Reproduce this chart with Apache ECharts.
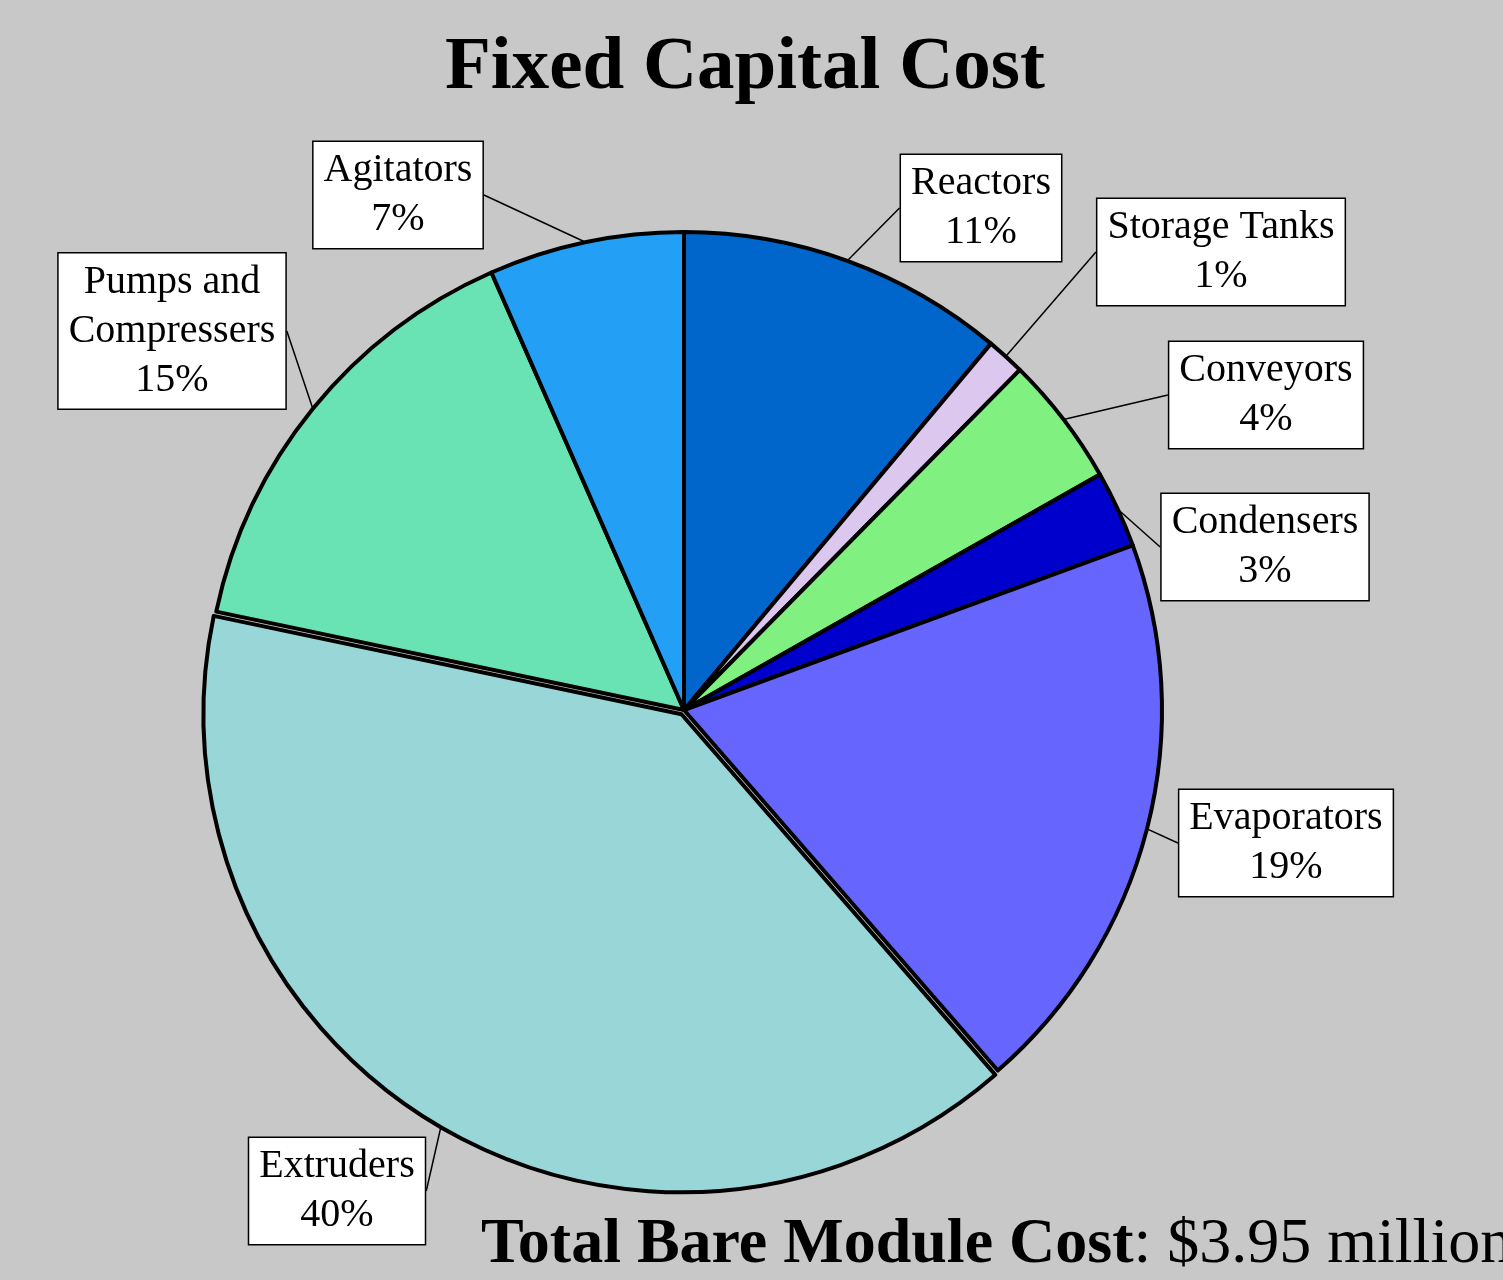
<!DOCTYPE html>
<html>
<head>
<meta charset="utf-8">
<script src="https://cdn.jsdelivr.net/npm/echarts@6/dist/echarts.min.js"></script>
<style>
  html, body { margin: 0; padding: 0; background: #c8c8c8; }
  #pieChart { width: 1503px; height: 1280px; }
</style>
</head>
<body>
<div id="pieChart"></div>
<script>
// equipment groups, clockwise from 12 o'clock
const categories = ['Reactors', 'Storage Tanks', 'Conveyors', 'Condensers', 'Evaporators', 'Extruders', 'Pumps and Compressers', 'Agitators'];
// share of bare module cost, %
const shares = [11.1, 1.3, 4.4, 2.6, 19.2, 39.7, 15.1, 6.6];
const colors = ['#0066cc', '#dcc8ee', '#80f080', '#0000cc', '#6666ff', '#99d6d8', '#69e2b4', '#23a0f5'];

// the slice that is pulled out of the pie
const exploded = 'Extruders';

// callout box centres (px)
const labelPos = [
  [981, 208], [1221, 252], [1266, 395], [1265, 547],
  [1286, 843], [337, 1191], [172, 331], [398, 195]
];

const serif = 'Liberation Serif';
const pieCenter = [684, 710];
const pieRadius = 478;
// pulled slice: same pie, centre nudged ~5px along its bisector
const explodedCenter = [681.5, 714.3];

const slice = (name, i, show) => ({
  name,
  value: shares[i],
  itemStyle: show
    ? { color: colors[i], borderColor: '#000', borderWidth: 4 }
    : { color: 'rgba(0,0,0,0)', borderWidth: 0 }
});

const options = {
  backgroundColor: '#c8c8c8',
  animation: false,
  title: [
    {
      text: 'Fixed Capital Cost',
      left: 740,
      top: 26,
      textAlign: 'center',
      textStyle: { fontFamily: serif, fontSize: 75, fontWeight: 'bold', color: '#000' }
    },
    {
      text: '{b|Total Bare Module Cost}{n|: $3.95 million}',
      left: 476,
      top: 1208,
      textStyle: {
        rich: {
          b: { fontFamily: serif, fontSize: 64, fontWeight: 'bold', color: '#000' },
          n: { fontFamily: serif, fontSize: 64, fontWeight: 'normal', color: '#000' }
        }
      }
    }
  ],
  series: [
    {
      type: 'pie',
      center: pieCenter,
      radius: pieRadius,
      startAngle: 90,
      avoidLabelOverlap: false,
      emphasis: { disabled: true },
      label: {
        show: true,
        position: 'outside',
        fontFamily: serif,
        fontSize: 40,
        lineHeight: 49,
        color: '#000',
        align: 'center',
        backgroundColor: '#fff',
        borderColor: '#000',
        borderWidth: 1.5,
        padding: [4, 10, 4, 10],
        formatter: p => p.name.replace('Pumps and ', 'Pumps and\n') + '\n' + Math.round(p.percent) + '%'
      },
      labelLine: { show: true, length2: 0, lineStyle: { color: '#000', width: 1.5 } },
      labelLayout: p => ({
        x: labelPos[p.dataIndex][0],
        y: labelPos[p.dataIndex][1],
        align: 'center',
        verticalAlign: 'middle'
      }),
      data: categories.map((name, i) => slice(name, i, name !== exploded))
    },
    {
      type: 'pie',
      center: explodedCenter,
      radius: pieRadius,
      startAngle: 90,
      silent: true,
      label: { show: false },
      labelLine: { show: false },
      emphasis: { disabled: true },
      data: categories.map((name, i) => slice(name, i, name === exploded))
    }
  ]
};

const chart = echarts.init(document.getElementById('pieChart'));
chart.setOption(options);
window.addEventListener('resize', () => {
  chart.resize();
});
</script>
</body>
</html>
